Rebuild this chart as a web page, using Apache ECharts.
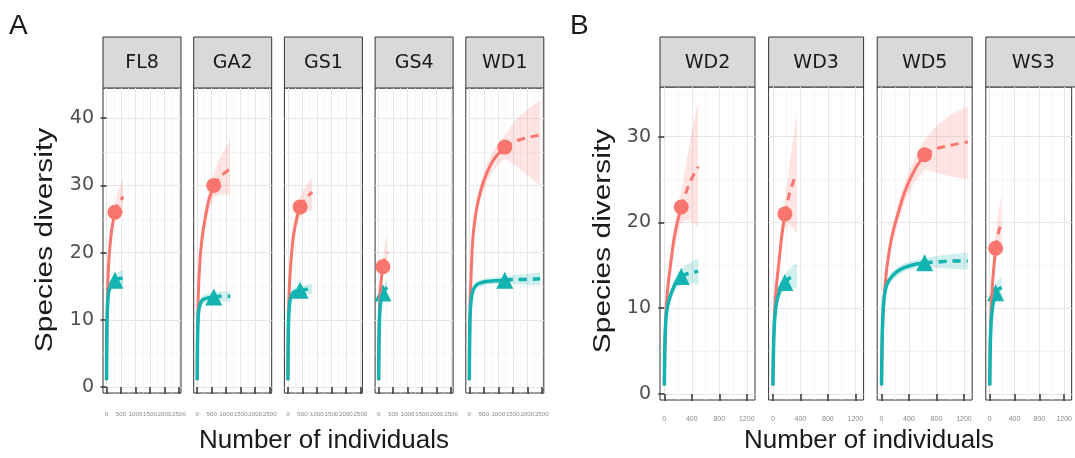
<!DOCTYPE html>
<html>
<head>
<meta charset="utf-8">
<title>Rarefaction curves</title>
<script src="https://cdn.jsdelivr.net/npm/echarts@6.0.0/dist/echarts.min.js"></script>
<style>
  html, body { margin: 0; padding: 0; background: #fff; }
  #main { width: 1075px; height: 458px; }
</style>
</head>
<body>
<div id="main"></div>
<script>
// ---------- panel A ----------
var facetsA = ['FL8', 'GA2', 'GS1', 'GS4', 'WD1'];
var obsA = [290, 570, 420, 150, 1223]; // observed number of individuals
var sizesA = [
  [1, 10, 30, 70, 130, 200, 290, 400, 580],
  [1, 10, 30, 70, 150, 250, 400, 570, 800, 1140],
  [1, 10, 30, 70, 130, 200, 300, 420, 600, 840],
  [1, 10, 30, 60, 100, 150, 220, 300],
  [1, 20, 60, 130, 250, 400, 600, 850, 1223, 1600, 2000, 2446]
];
var richA = [
  [1, 7, 13, 18, 21.5, 24, 26, 27.3, 28.3],
  [1, 7, 12.5, 17, 21.5, 24.5, 27.8, 30, 31.3, 32.5],
  [1, 7, 12.5, 16.5, 20, 22.8, 25, 26.8, 28, 29],
  [1, 6.5, 11.5, 14.3, 16.3, 17.9, 19.2, 20],
  [1, 11, 16.5, 22.5, 26.5, 29.3, 31.8, 33.9, 35.7, 36.6, 37.1, 37.5]
];
var richLoA = [
  [1, 6.2, 12, 16.8, 20.2, 22.6, 24.6, 25.3, 25.8],
  [1, 6.2, 11.3, 15.7, 20, 23, 26.2, 28.2, 28.6, 28.6],
  [1, 6.2, 11.3, 15.2, 18.7, 21.4, 23.6, 25.3, 25.9, 26.4],
  [1, 5.7, 10.5, 13.1, 15.1, 16.6, 16.9, 17],
  [1, 10, 15.3, 21.3, 25.3, 28, 30.5, 32.4, 34, 33, 31.5, 30]
];
var richHiA = [
  [1, 7.8, 14, 19.2, 22.8, 25.4, 27.4, 29.3, 30.8],
  [1, 7.8, 13.7, 18.3, 23, 26, 29.4, 31.8, 34.2, 36.8],
  [1, 7.8, 13.7, 17.8, 21.3, 24.2, 26.4, 28.3, 29.8, 31.2],
  [1, 7.3, 12.5, 15.5, 17.5, 19.2, 21.3, 23],
  [1, 12, 17.7, 23.7, 27.7, 30.6, 33.1, 35.4, 37.4, 39.8, 41.3, 42.6]
];
var shanA = [
  [1, 7.5, 11.5, 14, 15, 15.5, 15.9, 16.1, 16.2],
  [1, 6.5, 10, 11.8, 12.8, 13.1, 13.3, 13.4, 13.5, 13.5],
  [1, 7, 10.8, 12.8, 13.7, 14.1, 14.3, 14.4, 14.5, 14.6],
  [1, 6, 10, 12.3, 13.4, 14, 14.5, 14.8],
  [1, 9.5, 12.8, 14.4, 15.2, 15.5, 15.7, 15.8, 15.9, 16, 16, 16.1]
];
var shanLoA = [
  [1, 7, 10.8, 13.2, 14.2, 14.7, 15.1, 15.1, 15.0],
  [1, 6, 9.4, 11.2, 12.2, 12.5, 12.7, 12.8, 12.8, 12.7],
  [1, 6.5, 10.2, 12.2, 13.1, 13.5, 13.7, 13.8, 13.8, 13.8],
  [1, 5.5, 9.3, 11.5, 12.6, 13.2, 13.5, 13.6],
  [1, 9, 12.3, 13.9, 14.7, 15, 15.2, 15.3, 15.4, 15.3, 15.2, 15.1]
];
var shanHiA = [
  [1, 8, 12.2, 14.8, 15.8, 16.3, 16.7, 17.1, 17.4],
  [1, 7, 10.6, 12.4, 13.4, 13.7, 13.9, 14, 14.2, 14.3],
  [1, 7.5, 11.4, 13.4, 14.3, 14.7, 14.9, 15, 15.2, 15.4],
  [1, 6.5, 10.7, 13.1, 14.2, 14.8, 15.5, 16],
  [1, 10, 13.3, 14.9, 15.7, 16, 16.2, 16.3, 16.4, 16.7, 16.8, 17.1]
];
var xTicksA = [0, 500, 1000, 1500, 2000, 2500];
var xMinorA = [250, 750, 1250, 1750, 2250];
var yTicksA = [0, 10, 20, 30, 40];
var yMinorA = [5, 15, 25, 35];

// ---------- panel B ----------
var facetsB = ['WD2', 'WD3', 'WD5', 'WS3'];
var obsB = [247, 175, 628, 97];
var sizesB = [
  [1, 10, 25, 50, 90, 140, 190, 247, 330, 410, 494],
  [1, 10, 25, 50, 90, 130, 175, 240, 300, 350],
  [1, 15, 40, 80, 150, 250, 350, 480, 628, 800, 1000, 1256],
  [1, 10, 25, 50, 75, 97, 140, 194]
];
var richB = [
  [1, 6, 9.5, 12.3, 15, 18, 20, 21.8, 23.8, 25.3, 26.5],
  [1, 6, 9.5, 12.5, 15.5, 18.5, 21, 23.3, 24.8, 25.7],
  [1, 7.5, 11.3, 14.8, 18.3, 21.3, 23.8, 26.1, 27.9, 28.6, 29, 29.4],
  [1, 6.5, 10, 13.3, 15.4, 17, 18.8, 20]
];
var richLoB = [
  [1, 5.4, 8.7, 11.3, 13.8, 16.6, 18.4, 20, 20.3, 20, 19.5],
  [1, 5.4, 8.7, 11.5, 14.2, 17, 19.3, 19.8, 19.3, 18.7],
  [1, 7, 10.5, 14, 17.3, 20.2, 22.6, 24.7, 26.2, 25.8, 25.4, 25],
  [1, 5.8, 9.1, 12.1, 14, 15.5, 16.3, 16.8]
];
var richHiB = [
  [1, 6.6, 10.3, 13.3, 16.2, 19.4, 21.6, 23.6, 27.5, 31, 34.2],
  [1, 6.6, 10.3, 13.5, 16.8, 20, 22.7, 26.8, 30, 32.8],
  [1, 8, 12.1, 15.6, 19.3, 22.4, 25, 27.4, 29.6, 31.3, 32.5, 33.6],
  [1, 7.2, 10.9, 14.5, 16.8, 18.5, 21.3, 23.2]
];
var shanB = [
  [1, 6, 8.8, 10.3, 11.5, 12.5, 13.2, 13.7, 14, 14.2, 14.3],
  [1, 5.5, 8.5, 10.5, 11.8, 12.5, 13, 13.5, 13.7, 13.8],
  [1, 8, 11.3, 12.8, 13.7, 14.4, 14.8, 15.1, 15.3, 15.4, 15.5, 15.5],
  [1, 5.5, 8.5, 10.3, 11.2, 11.8, 12.2, 12.4]
];
var shanLoB = [
  [1, 5.5, 8.2, 9.7, 10.8, 11.8, 12.4, 12.8, 12.9, 12.9, 12.8],
  [1, 5, 7.9, 9.8, 11.1, 11.7, 12.1, 12.4, 12.4, 12.3],
  [1, 7.5, 10.8, 12.3, 13.2, 13.9, 14.3, 14.6, 14.8, 14.7, 14.6, 14.5],
  [1, 5, 7.9, 9.6, 10.4, 10.9, 11.1, 11.1]
];
var shanHiB = [
  [1, 6.5, 9.4, 10.9, 12.2, 13.2, 14, 14.6, 15.1, 15.5, 15.8],
  [1, 6, 9.1, 11.2, 12.5, 13.3, 13.9, 14.6, 15, 15.3],
  [1, 8.5, 11.8, 13.3, 14.2, 14.9, 15.3, 15.6, 15.8, 16.1, 16.3, 16.5],
  [1, 6, 9.1, 11, 12, 12.7, 13.3, 13.7]
];
var xTicksB = [0, 400, 800, 1200];
var xMinorB = [200, 600, 1000];
var yTicksB = [0, 10, 20, 30];
var yMinorB = [5, 15, 25, 35];

var RED = '#F8766D';
var TEAL = '#12B3B0';
var FONT = '"Liberation Sans", Arial, sans-serif';
var LABEL_FONT = '"DejaVu Sans", sans-serif';

var option = {
  animation: false,
  backgroundColor: '#fff',
  textStyle: { fontFamily: FONT },
  grid: [],
  xAxis: [],
  yAxis: [],
  series: [],
  graphic: []
};

function pairs(xs, ys) {
  return xs.map(function (x, k) { return [x, ys[k]]; });
}

function addPanel(p) {
  p.facets.forEach(function (name, i) {
    var g = option.grid.length;
    var left = p.left + i * p.step;
    option.grid.push({
      left: left, top: p.top, width: p.width, height: p.height,
      show: true, backgroundColor: '#fff', borderColor: '#333', borderWidth: 1
    });

    var xa = option.xAxis.length;
    option.xAxis.push({
      type: 'value', gridIndex: g, min: p.xMin, max: p.xMax,
      axisLine: { show: false },
      axisTick: { customValues: p.xTicks, length: 7, lineStyle: { color: '#333', width: 1.5 } },
      axisLabel: {
        customValues: p.xTicks, fontSize: p.xLabelSize, color: '#8a8a8a', margin: p.xLabelMargin,
        showMinLabel: true, showMaxLabel: true, hideOverlap: false,
        fontFamily: FONT, formatter: function (v) { return String(v); }
      },
      splitLine: { lineStyle: { color: '#E6E6E6', width: 1 } }
    });
    option.xAxis.push({
      type: 'value', gridIndex: g, min: p.xMin, max: p.xMax,
      axisLine: { show: false },
      axisTick: { show: false, customValues: p.xMinor },
      axisLabel: { show: false },
      splitLine: { lineStyle: { color: '#F0F0F0', width: 0.6 } }
    });

    var ya = option.yAxis.length;
    option.yAxis.push({
      type: 'value', gridIndex: g, min: p.yMin, max: p.yMax,
      axisLine: { show: false },
      axisTick: { show: i === 0, customValues: p.yTicks, length: 6, lineStyle: { color: '#333', width: 1.5 } },
      axisLabel: { show: i === 0, customValues: p.yTicks, fontSize: 19, color: '#4D4D4D', margin: 9, fontFamily: LABEL_FONT },
      splitLine: { lineStyle: { color: '#E6E6E6', width: 1 } }
    });
    option.yAxis.push({
      type: 'value', gridIndex: g, min: p.yMin, max: p.yMax,
      axisLine: { show: false },
      axisTick: { show: false, customValues: p.yMinor },
      axisLabel: { show: false },
      splitLine: { lineStyle: { color: '#F0F0F0', width: 0.6 } }
    });

    var sizes = p.sizes[i];
    var obs = p.obs[i];
    var k0 = sizes.indexOf(obs);
    var curves = [
      { y: p.rich[i], lo: p.richLo[i], hi: p.richHi[i], color: RED, width: 3, symbol: 'circle', size: 15 },
      { y: p.shan[i], lo: p.shanLo[i], hi: p.shanHi[i], color: TEAL, width: 3.5, symbol: 'triangle', size: 17 }
    ];

    // confidence bands, one polygon each, placed through the axes
    curves.forEach(function (c) {
      option.series.push({
        type: 'custom', xAxisIndex: xa, yAxisIndex: ya, silent: true, clip: true,
        data: [[sizes[0], c.lo[0]]],
        renderItem: function (params, api) {
          var upper = sizes.map(function (x, k) { return api.coord([x, c.hi[k]]); });
          var lower = sizes.map(function (x, k) { return api.coord([x, c.lo[k]]); }).reverse();
          return {
            type: 'polygon',
            shape: { points: upper.concat(lower) },
            style: { fill: c.color, opacity: 0.2 }
          };
        }
      });
    });

    // rarefaction (solid) and extrapolation (dashed)
    curves.forEach(function (c) {
      var all = pairs(sizes, c.y);
      option.series.push({
        type: 'line', xAxisIndex: xa, yAxisIndex: ya,
        data: all.slice(0, k0 + 1), symbol: 'none', smooth: 0.3,
        lineStyle: { color: c.color, width: c.width }
      });
      option.series.push({
        type: 'line', xAxisIndex: xa, yAxisIndex: ya,
        data: all.slice(k0), symbol: 'none', smooth: 0.3,
        lineStyle: { color: c.color, width: c.width, type: [8, 6] }
      });
    });

    // observed samples
    curves.forEach(function (c) {
      option.series.push({
        type: 'scatter', xAxisIndex: xa, yAxisIndex: ya,
        data: [[obs, c.y[k0]]], symbol: c.symbol, symbolSize: c.size,
        itemStyle: { color: c.color, opacity: 1 }
      });
    });

    // strip
    option.graphic.push({
      type: 'rect', silent: true,
      shape: { x: left, y: p.stripTop, width: p.width, height: p.stripH },
      style: { fill: '#D9D9D9', stroke: '#333', lineWidth: 1 }
    });
    option.graphic.push({
      type: 'text', silent: true,
      x: left + p.width / 2, y: p.stripTop + p.stripH / 2 + 1,
      style: {
        text: name, fill: '#1A1A1A', font: '19px ' + LABEL_FONT,
        align: 'center', verticalAlign: 'middle', textAlign: 'center', textVerticalAlign: 'middle'
      }
    });
  });

  // panel letter and axis titles
  option.graphic.push({
    type: 'text', silent: true, x: p.letterX, y: 12,
    style: { text: p.letter, fill: '#1A1A1A', font: '28px ' + FONT }
  });
  option.graphic.push({
    type: 'text', silent: true, x: p.xTitleX, y: 441,
    style: {
      text: 'Number of individuals', fill: '#1A1A1A', font: '26px ' + FONT,
      align: 'center', verticalAlign: 'middle', textAlign: 'center', textVerticalAlign: 'middle'
    }
  });
  option.graphic.push({
    type: 'text', silent: true, x: p.yTitleX, y: p.yTitleY,
    rotation: Math.PI / 2, scaleX: 1.3,
    style: {
      text: 'Species diversity', fill: '#1A1A1A', font: '23px ' + FONT,
      align: 'center', verticalAlign: 'middle', textAlign: 'center', textVerticalAlign: 'middle'
    }
  });
}

addPanel({
  letter: 'A', letterX: 9,
  facets: facetsA, obs: obsA, sizes: sizesA,
  rich: richA, richLo: richLoA, richHi: richHiA,
  shan: shanA, shanLo: shanLoA, shanHi: shanHiA,
  xTicks: xTicksA, xMinor: xMinorA, yTicks: yTicksA, yMinor: yMinorA,
  xMin: -121, xMax: 2569, yMin: -0.9, yMax: 44.5,
  left: 103, step: 90.7, width: 78, top: 88, height: 305,
  stripTop: 37, stripH: 51, xLabelMargin: 18, xLabelSize: 6.2,
  xTitleX: 324, yTitleX: 46, yTitleY: 240
});

addPanel({
  letter: 'B', letterX: 570,
  facets: facetsB, obs: obsB, sizes: sizesB,
  rich: richB, richLo: richLoB, richHi: richHiB,
  shan: shanB, shanLo: shanLoB, shanHi: shanHiB,
  xTicks: xTicksB, xMinor: xMinorB, yTicks: yTicksB, yMinor: yMinorB,
  xMin: -62, xMax: 1320, yMin: -0.7, yMax: 35.8,
  left: 660, step: 108.6, width: 95, top: 87, height: 313,
  stripTop: 37, stripH: 50, xLabelMargin: 16, xLabelSize: 7,
  xTitleX: 869, yTitleX: 604, yTitleY: 241
});

var chart = echarts.init(document.getElementById('main'));
chart.setOption(option);
</script>
</body>
</html>
